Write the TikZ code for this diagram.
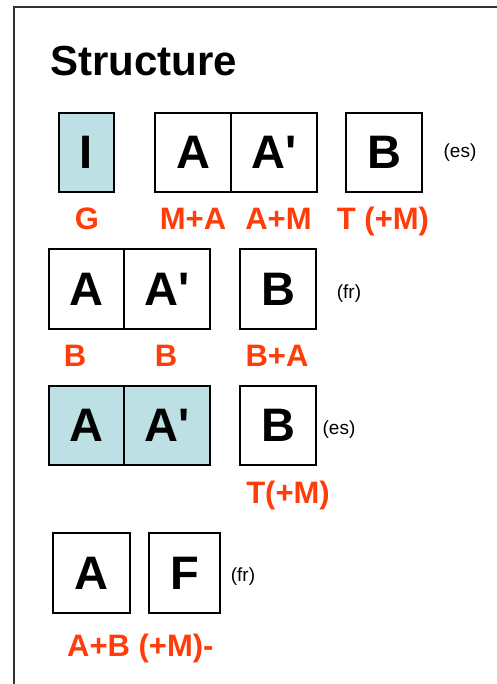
\documentclass[tikz,border=0pt]{standalone}
\usepackage{fontspec}
\setmainfont{Liberation Sans}
\definecolor{boxfill}{RGB}{188,224,227}
\definecolor{lblred}{RGB}{255,60,10}
\definecolor{framegray}{RGB}{50,50,50}
\begin{document}
\begin{tikzpicture}[x=1pt,y=-1pt,
  box/.style={draw=black, line width=1.3pt, inner sep=0pt, font=\fontsize{47}{47}\selectfont\bfseries},
  shaded/.style={box, fill=boxfill},
  lbl/.style={text=lblred, inner sep=0pt, anchor=base, font=\fontsize{31}{31}\selectfont\bfseries},
  lang/.style={inner sep=0pt, font=\fontsize{19}{19}\selectfont},
  title/.style={inner sep=0pt, anchor=base west, font=\fontsize{42}{42}\selectfont\bfseries}]
\useasboundingbox (0,0) rectangle (496,684);
\fill[white] (0,0) rectangle (496,684);
% frame
\coordinate (fr1) at (14,700);
\coordinate (fr2) at (14,7);
\coordinate (fr3) at (510,7);
\draw[framegray, line width=1.5pt] (fr1) -- (fr2) -- (fr3);
% title
\node[title] (title) at (50,76) {Structure};
% row 1
\node[shaded, minimum width=55, minimum height=79] (r1i) at (86.5,152.5) {I};
\node[box, minimum width=76, minimum height=79] (r1a) at (193,152.5) {A};
\node[box, minimum width=86, minimum height=79] (r1ap) at (274,152.5) {A\textquotesingle};
\node[box, minimum width=76, minimum height=79] (r1b) at (384,152.5) {B};
\node[lang] (r1es) at (460,153) {(es)};
\node[lbl] (l1g) at (87,230) {G};
\node[lbl] (l1ma) at (193,230) {M+A};
\node[lbl] (l1am) at (278.5,230) {A+M};
\node[lbl] (l1t) at (383,230) {T (+M)};
% row 2
\node[box, minimum width=75, minimum height=80] (r2a) at (86.5,289) {A};
\node[box, minimum width=86, minimum height=80] (r2ap) at (167,289) {A\textquotesingle};
\node[box, minimum width=76, minimum height=80] (r2b) at (278,289) {B};
\node[lang] (r2fr) at (349,294) {(fr)};
\node[lbl] (l2b1) at (75,366) {B};
\node[lbl] (l2b2) at (166,366) {B};
\node[lbl] (l2ba) at (277,366) {B+A};
% row 3
\node[shaded, minimum width=75, minimum height=79] (r3a) at (86.5,425.5) {A};
\node[shaded, minimum width=86, minimum height=79] (r3ap) at (167,425.5) {A\textquotesingle};
\node[box, minimum width=76, minimum height=79] (r3b) at (278,425.5) {B};
\node[lang] (r3es) at (339,430) {(es)};
\node[lbl] (l3t) at (288,503) {T(+M)};
% row 4
\node[box, minimum width=77, minimum height=80] (r4a) at (91.5,573) {A};
\node[box, minimum width=71, minimum height=80] (r4f) at (184.5,573) {F};
\node[lang] (r4fr) at (243,577) {(fr)};
\node[lbl, anchor=base west] (l4) at (67,656) {A+B (+M)-};
\end{tikzpicture}
\end{document}
